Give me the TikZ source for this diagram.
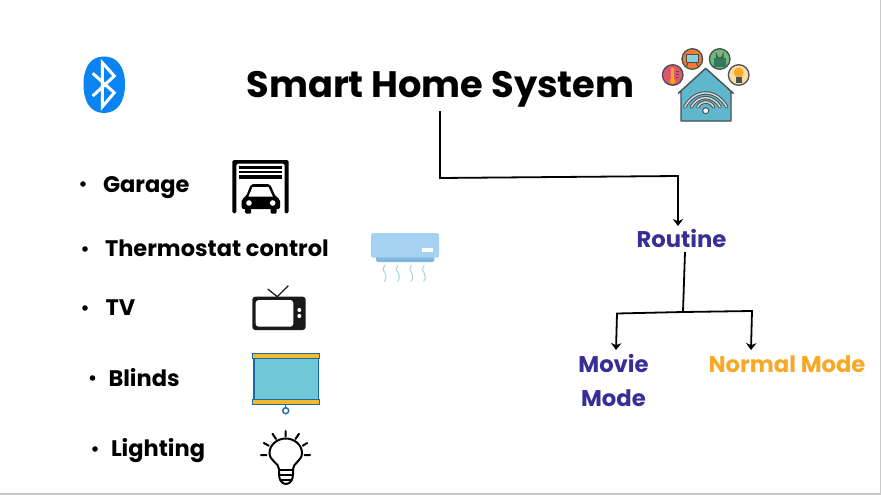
\documentclass[tikz,border=0pt]{standalone}
\usepackage{fontspec}
\setmainfont{Poppins}
\usetikzlibrary{arrows.meta}
\definecolor{navy}{HTML}{372F96}
\definecolor{amber}{HTML}{F9A825}
\definecolor{btblue}{HTML}{0A84F0}
\definecolor{edgegray}{HTML}{C8C8C8}
\definecolor{icongray}{HTML}{4A4F50}
\definecolor{housecol}{HTML}{5FB7CC}
\definecolor{acblue}{HTML}{A5D2F0}
\definecolor{acdark}{HTML}{7FB8DC}
\definecolor{blindfill}{HTML}{6FC8D6}
\definecolor{blindedge}{HTML}{1B6AA0}
\definecolor{blindbar}{HTML}{F5B82E}
\definecolor{lockgreen}{HTML}{2F7A5A}
\tikzset{
  every node/.style={inner sep=0pt,outer sep=0pt},
  titletext/.style={font=\bfseries\fontsize{36.8}{40}\selectfont,anchor=base},
  itemtext/.style={font=\bfseries\fontsize{22.5}{26}\selectfont,anchor=base west,text=black},
  bullettext/.style={fill=black,circle,minimum size=5.6pt},
  modetext/.style={font=\bfseries\fontsize{22.7}{34}\selectfont,anchor=base,align=center},
  conn/.style={line width=1.8pt,black,line join=miter},
  arrowconn/.style={conn,-{Stealth[length=7pt,width=10.5pt]}},
  iconline/.style={icongray,line width=1.3pt},
  raycap/.style={line width=2pt,line cap=round,black},
}
\begin{document}
\begin{tikzpicture}[x=1pt,y=-1pt]
\useasboundingbox (0,0) rectangle (881,495);
\fill[white] (0,0) rectangle (881,495);
% slide edge
\fill[edgegray] (879.5,0) rectangle (881,495);
\fill[edgegray] (0,493) rectangle (881,495);

% texts
\node[titletext] (title) at (440.5,97) {Smart Home System};
\node[itemtext] (garage) at (103,192.5) {Garage};
\node[itemtext] (thermo) at (105,256) {Thermostat control};
\node[itemtext] (tv) at (105.5,315) {TV};
\node[itemtext] (blinds) at (108.5,386) {Blinds};
\node[itemtext] (lighting) at (111,456) {Lighting};
\node[bullettext] (b1) at (83,184) {};
\node[bullettext] (b2) at (85,249) {};
\node[bullettext] (b3) at (85,308) {};
\node[bullettext] (b4) at (92.5,378) {};
\node[bullettext] (b5) at (95,449) {};
\node[modetext,text=navy] (routine) at (681.5,247.5) {Routine};
\node[modetext,text=navy] (movie) at (613.5,406.5) {Movie\\Mode};
\node[modetext,text=amber] (normal) at (787,372.5) {Normal Mode};

% connectors
\coordinate (c1) at (440,178);
\coordinate (c2) at (678,176);
\coordinate (c3) at (683,312);
\coordinate (c4) at (617,313.5);
\coordinate (c5) at (752,311);
\draw[arrowconn] ([shift={(-0.5,14)}]title.base) -- (c1) -- (c2) -- ([shift={(-3.5,-21.5)}]routine.base);
\draw[conn] ([shift={(3.5,4.5)}]routine.base) -- (c3);
\draw[arrowconn] (c3) -- (c4) -- ([shift={(2.5,-56.5)}]movie.base);
\draw[arrowconn] (c3) -- (c5) -- ([shift={(-36,-22.5)}]normal.base);

% bluetooth
\fill[btblue] (104,56.5) .. controls (118,56.5) and (125,68) .. (125,84.5)
  .. controls (125,101) and (118,113) .. (104,113)
  .. controls (90,113) and (83.5,101) .. (83.5,84.5)
  .. controls (83.5,68) and (90,56.5) .. (104,56.5) -- cycle;
\draw[white,line width=3pt,line join=miter]
  (92.7,73.3) -- (114.3,92.7) -- (102.3,106.7) -- (102.3,62.7) -- (114.3,76) -- (92.7,96);

% smart home icon
\foreach \cx/\cy/\col in {672.7/75/E0566A,692.3/59/F47A30,719.7/59/6DB87A,738.7/75/FBDDA2}{
  \definecolor{tmpc}{HTML}{\col}
  \draw[iconline,fill=tmpc] (\cx,\cy) circle (10.3);
}
% thermometer
\fill[amber] (672.5,81) circle (2.8);
\fill[amber] (671.2,68) rectangle (673.8,79);
\draw[icongray,line width=.7pt] (676,71) -- (679,71) (676,74) -- (679,74) (676,77) -- (678,77);
% monitor
\draw[icongray,line width=1pt,fill=housecol!70] (686,54.5) rectangle (698.5,63);
\draw[icongray,line width=1pt] (688,63) -- (686.5,66) (696.5,63) -- (698,66);
% padlock
\fill[lockgreen] (713.5,58) rectangle (726,67);
\draw[icongray,line width=1.2pt] (716.5,58) -- (716.5,55) arc[start angle=180,end angle=0,radius=3.2] -- (722.9,58);
\fill[black!60] (719.7,62.5) circle (1.2);
% bulb
\fill[amber] (738.7,72.5) circle (5);
\fill[icongray] (735.5,77) rectangle (741.9,83);
% house
\draw[icongray,line width=1.4pt,fill=housecol,line join=round]
  (681,121) -- (681,91) -- (678.3,93.3) -- (705.7,68.3) -- (733.3,93.3) -- (731,91) -- (731,121) -- cycle;
\foreach \rx/\ry in {21/15,14.5/10,8/5.5}{
  \draw[icongray,line width=3.4pt,line cap=round] (705.7-\rx,107) .. controls (705.7-\rx*.5,107-\ry*1.25) and (705.7+\rx*.5,107-\ry*1.25) .. (705.7+\rx,107);
  \draw[white!80!icongray,line width=1.4pt,line cap=round] (705.7-\rx,107) .. controls (705.7-\rx*.5,107-\ry*1.25) and (705.7+\rx*.5,107-\ry*1.25) .. (705.7+\rx,107);
}
\draw[icongray,line width=1pt,fill=white] (705.7,110.7) circle (3);

% garage
\fill[black,rounded corners=1.5pt] (232.3,213.3) -- (232.3,160) -- (288.5,160) -- (288.5,213.3) -- (284.5,213.3) -- (284.5,163.5) -- (236.3,163.5) -- (236.3,213.3) -- cycle;
\fill[black] (239.3,166) rectangle (282.3,168.7);
\fill[black] (239.3,170.7) rectangle (282.3,173.3);
\fill[black] (239.3,175.3) rectangle (282.3,178.7);
\fill[black,rounded corners=2pt] (241.7,209) -- (241.7,199) -- (246,196.5) -- (251,184) -- (270,184) -- (275.5,196.5) -- (280,199) -- (280,209) -- cycle;
\fill[white] (248.5,196.5) -- (252.5,187) -- (268.5,187) -- (272.8,196.5) -- cycle;
\fill[black,rounded corners=1pt] (245,207) rectangle (251,213.5);
\fill[black,rounded corners=1pt] (270.5,207) rectangle (276.5,213.5);
\fill[white] (249,203) circle (2.8);
\fill[white] (272.7,203) circle (2.8);

% air conditioner
\fill[acdark,rounded corners=1.5pt] (376,254) rectangle (434.3,262);
\fill[acblue,rounded corners=2pt] (371,233) rectangle (439,257.7);
\fill[white] (421.7,248.3) rectangle (433.3,252.3);
\foreach \wx in {385,398.3,411.7,424.3}{
  \draw[acblue,line width=1pt] (\wx,265) .. controls (\wx-3.5,270) and (\wx-1,271) .. (\wx,273)
    .. controls (\wx+1,276) and (\wx+2,278) .. (\wx-.8,281.5);
}

% tv
\draw[black!90,line width=1.3pt] (267.7,289) -- (277.3,296.7) -- (288.3,285.7);
\fill[black!90,rounded corners=3pt] (252.3,296.7) rectangle (305.7,330);
\fill[white,rounded corners=3pt] (255.7,300) rectangle (293.3,326.7);
\fill[white] (299.3,310) circle (2);
\fill[white] (299.3,316) circle (2);

% blinds
\draw[blindedge,line width=1.3pt,fill=blindfill] (254,358) rectangle (318.3,400);
\draw[blindedge,line width=1.3pt,fill=blindbar] (252.7,353.5) rectangle (319.3,358.3);
\draw[blindedge,line width=1.3pt,fill=blindbar] (252.7,399.5) rectangle (319.3,404.3);
\draw[blindedge,line width=1.3pt] (285.7,404.3) -- (285.7,407.7);
\draw[blindedge,line width=1.4pt] (285.7,410.7) circle (3);

% light bulb
\draw[raycap,line join=round] (279,474) -- (279,469) .. controls (279,463) and (269.5,461) .. (269.5,453)
  .. controls (269.5,445) and (277,438.5) .. (285.7,438.5)
  .. controls (294.5,438.5) and (302,445) .. (302,453)
  .. controls (302,461) and (293,463) .. (293,469) -- (293,474)
  .. controls (293,480) and (290,484) .. (286,484)
  .. controls (282,484) and (279,480) .. (279,474) -- cycle;
\draw[raycap] (279,469.5) -- (293,469.5) (279,474.5) -- (293,474.5) (280,479.5) -- (292,479.5);
\draw[raycap] (285.7,431) -- (285.7,436.5)
  (299,433.8) -- (295.5,439)
  (307.2,443) -- (302.7,445.7)
  (310.2,455) -- (304.5,455)
  (272.5,433.8) -- (276,439)
  (263.8,443) -- (268.8,445.7)
  (261,455) -- (266.5,455);
\end{tikzpicture}
\end{document}
